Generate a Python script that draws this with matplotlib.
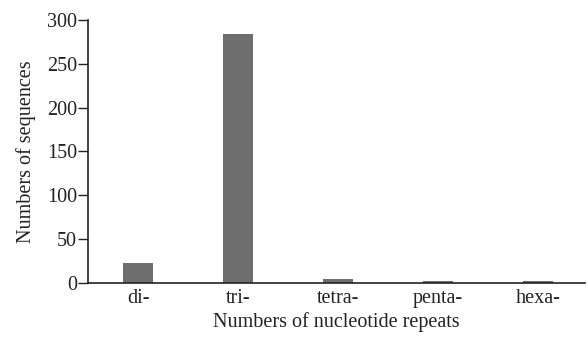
import matplotlib.pyplot as plt
import numpy as np

categories = ['di-', 'tri-', 'tetra-', 'penta-', 'hexa-']
counts = [23, 284, 5, 2, 2.5]

plt.rcParams['font.family'] = ['Liberation Serif', 'DejaVu Serif']

fig = plt.figure(figsize=(5.88, 3.37), dpi=100)
ax = fig.add_axes([0.15, 0.16, 0.845, 0.781])

x = np.arange(len(categories))
ax.bar(x, counts, width=0.3, color='#6e6e6e')

ax.set_xlim(-0.5, 4.47)
ax.set_ylim(0, 300)
ax.set_yticks(range(0, 301, 50))
ax.set_xticks(x)
ax.set_xticklabels(categories)
ax.tick_params(axis='x', length=0, labelsize=14.5, pad=4, colors='#222222')
ax.tick_params(axis='y', length=7, width=1, labelsize=14.5, pad=1, colors='#222222')

for side in ['top', 'right']:
    ax.spines[side].set_visible(False)
for side in ['left', 'bottom']:
    ax.spines[side].set_linewidth(1.2)
    ax.spines[side].set_color('#222222')

ax.set_xlabel('Numbers of nucleotide repeats', fontsize=14.5, color='#222222', labelpad=3)
ax.set_ylabel('Numbers of sequences', fontsize=14.5, color='#222222', labelpad=8)

fig.savefig('out.png', dpi=100)
